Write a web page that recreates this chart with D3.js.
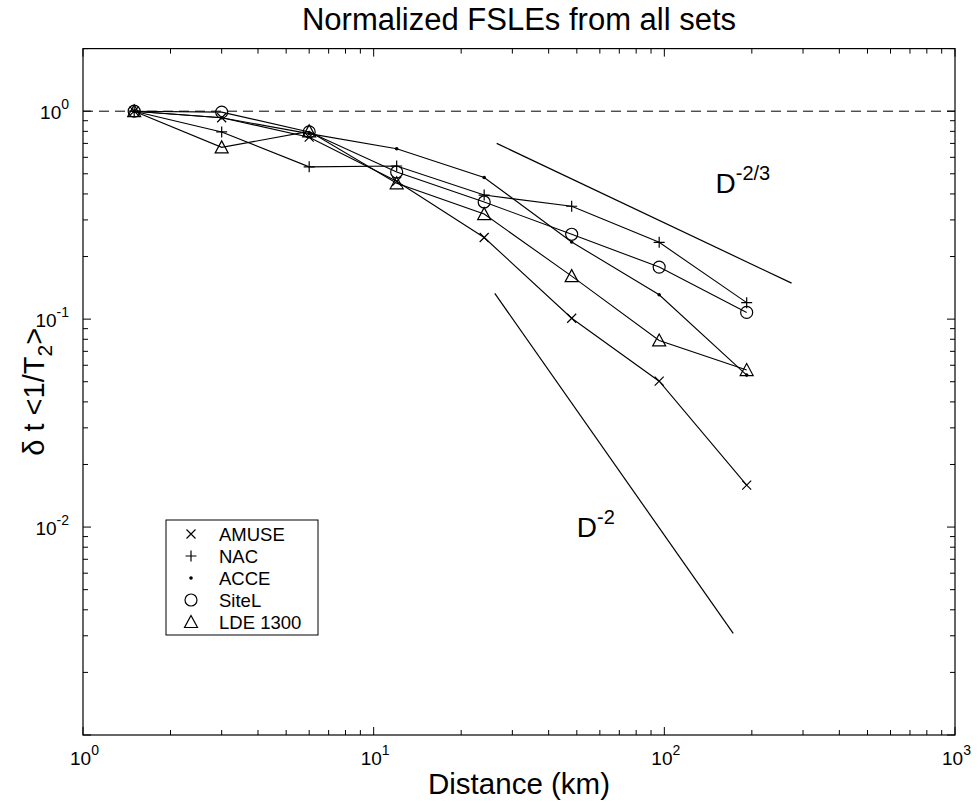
<!DOCTYPE html>
<html><head><meta charset="utf-8">
<script src="https://d3js.org/d3.v7.min.js"></script>
<style>body{margin:0;background:#fff;} text{font-family:"Liberation Sans",Arial,Helvetica,sans-serif;fill:#000;}</style>
</head><body>
<svg id="c" width="978" height="803"></svg>
<script>
const distances = [1.5, 3, 6, 12, 24, 48, 96, 192];
const seriesNames = ["AMUSE", "NAC", "ACCE", "SiteL", "LDE 1300"];
const amuse = [1, 0.93, 0.75, 0.46, 0.247, 0.101, 0.0503, 0.0159];
const nac   = [1, 0.795, 0.54, 0.545, 0.395, 0.349, 0.234, 0.120];
const acce  = [1, 0.93, 0.78, 0.66, 0.48, 0.235, 0.131, 0.0538];
const sitel = [1, 0.99, 0.795, 0.51, 0.366, 0.256, 0.178, 0.1077];
const lde   = [1, 0.67, 0.80, 0.45, 0.32, 0.161, 0.079, 0.0569];
const slope23X = [26.5, 274], slope23Y = [0.70, 0.149];
const slope2X = [26.1, 172.6], slope2Y = [0.133, 0.00308];
const slope23Label = {x: 150, y: 0.45, sup: "-2/3"};
const slope2Label = {x: 50, y: 0.01, sup: "-2"};
const xTickExps = [0, 1, 2, 3];
const yTickExps = [0, -1, -2];

const svg = d3.select("#c");
const L = 83, R = 955, T = 48.6, B = 735;
const x = d3.scaleLog().domain([1, 1000]).range([L, R]);
const y = d3.scaleLog().domain([1e-3, 2]).range([B, T]);

// dashed y=1
svg.append("line").attr("x1", L).attr("x2", R).attr("y1", y(1)).attr("y2", y(1))
  .attr("stroke", "#000").attr("stroke-width", 1).attr("stroke-dasharray", "10,6");

// ticks
function logVals(d0, d1) { const v = []; for (let e = Math.floor(Math.log10(d0)); e <= Math.ceil(Math.log10(d1)); e++) for (let m = 1; m < 10; m++) { const val = m * Math.pow(10, e); if (val >= d0 * 0.999 && val <= d1 * 1.001) v.push(val); } return v; }
const isMajor = v => Math.abs(Math.log10(v) - Math.round(Math.log10(v))) < 1e-9;
const axesG = svg.append("g").attr("stroke", "#000").attr("stroke-width", 1);
logVals(1, 1000).forEach(v => {
  const len = isMajor(v) ? 8 : 5, px = x(v);
  axesG.append("line").attr("x1", px).attr("x2", px).attr("y1", B).attr("y2", B - len);
  axesG.append("line").attr("x1", px).attr("x2", px).attr("y1", T).attr("y2", T + len);
});
logVals(1e-3, 2).forEach(v => {
  const len = isMajor(v) ? 8 : 5, py = y(v);
  axesG.append("line").attr("x1", L).attr("x2", L + len).attr("y1", py).attr("y2", py);
  axesG.append("line").attr("x1", R).attr("x2", R - len).attr("y1", py).attr("y2", py);
});
svg.append("rect").attr("x", L).attr("y", T).attr("width", R - L).attr("height", B - T)
  .attr("fill", "none").attr("stroke", "#000").attr("stroke-width", 1.2);

// tick labels
xTickExps.forEach(e => {
  const t = svg.append("text").attr("x", x(Math.pow(10, e)) - 13).attr("y", B + 30).attr("font-size", 19);
  t.append("tspan").text("10");
  t.append("tspan").attr("dy", -10).attr("font-size", 14).text(e);
});
yTickExps.forEach(e => {
  const t = svg.append("text").attr("x", L - 14).attr("y", y(Math.pow(10, e)) + 8).attr("font-size", 19).attr("text-anchor", "end");
  t.append("tspan").text("10");
  t.append("tspan").attr("dy", -10).attr("font-size", 14).text(e === 0 ? "0" : "-" + Math.abs(e));
});

// reference slopes
const line = d3.line().x(d => x(d[0])).y(d => y(d[1]));
svg.append("path").attr("d", line(slope23X.map((v, i) => [v, slope23Y[i]]))).attr("fill", "none").attr("stroke", "#000").attr("stroke-width", 1.2);
svg.append("path").attr("d", line(slope2X.map((v, i) => [v, slope2Y[i]]))).attr("fill", "none").attr("stroke", "#000").attr("stroke-width", 1.2);

// series
const allSeries = [amuse, nac, acce, sitel, lde];
const markerTypes = ["x", "plus", "dot", "circle", "tri"];
function drawMarker(g, type, cx, cy) {
  if (type === "x") g.append("path").attr("d", `M${cx-4.5},${cy-4.5}L${cx+4.5},${cy+4.5}M${cx-4.5},${cy+4.5}L${cx+4.5},${cy-4.5}`).attr("stroke", "#000").attr("stroke-width", 1.2);
  else if (type === "plus") g.append("path").attr("d", `M${cx-5.5},${cy}L${cx+5.5},${cy}M${cx},${cy-5.5}L${cx},${cy+5.5}`).attr("stroke", "#000").attr("stroke-width", 1.2);
  else if (type === "dot") g.append("circle").attr("cx", cx).attr("cy", cy).attr("r", 1.8).attr("fill", "#000");
  else if (type === "circle") g.append("circle").attr("cx", cx).attr("cy", cy).attr("r", 6).attr("fill", "none").attr("stroke", "#000").attr("stroke-width", 1.2);
  else if (type === "tri") g.append("path").attr("d", `M${cx},${cy-6.5}L${cx+6.5},${cy+5.5}L${cx-6.5},${cy+5.5}Z`).attr("fill", "none").attr("stroke", "#000").attr("stroke-width", 1.2);
}
allSeries.forEach((vals, si) => {
  const pts = distances.map((d, i) => [d, vals[i]]);
  svg.append("path").attr("d", line(pts)).attr("fill", "none").attr("stroke", "#000").attr("stroke-width", 1.1);
  const g = svg.append("g");
  pts.forEach(p => drawMarker(g, markerTypes[si], x(p[0]), y(p[1])));
});

// slope labels (left-middle anchored at data point)
[slope23Label, slope2Label].forEach(lb => {
  const t = svg.append("text").attr("x", x(lb.x)).attr("y", y(lb.y) + 10).attr("font-size", 28);
  t.append("tspan").text("D");
  t.append("tspan").attr("dy", -13).attr("font-size", 20).text(lb.sup);
});

// legend
const lg = svg.append("g");
lg.append("rect").attr("x", 166).attr("y", 520).attr("width", 152).attr("height", 115).attr("fill", "#fff").attr("stroke", "#000").attr("stroke-width", 1);
seriesNames.forEach((n, i) => {
  const cy = 534 + i * 22;
  drawMarker(lg, markerTypes[i], 191, cy);
  lg.append("text").attr("x", 219).attr("y", cy + 6.5).attr("font-size", 18.5).text(n);
});

// titles
svg.append("text").attr("x", (L + R) / 2).attr("y", 30).attr("text-anchor", "middle").attr("font-size", 31).text("Normalized FSLEs from all sets");
svg.append("text").attr("x", (L + R) / 2).attr("y", 794).attr("text-anchor", "middle").attr("font-size", 29.5).text("Distance (km)");
const yl = svg.append("text").attr("transform", `translate(44,${(T + B) / 2}) rotate(-90)`).attr("text-anchor", "middle").attr("font-size", 29);
yl.append("tspan").text("\u03B4 t <1/T");
yl.append("tspan").attr("dy", 8).attr("font-size", 21).text("2");
yl.append("tspan").attr("dy", -8).text(">");
</script>
</body></html>
